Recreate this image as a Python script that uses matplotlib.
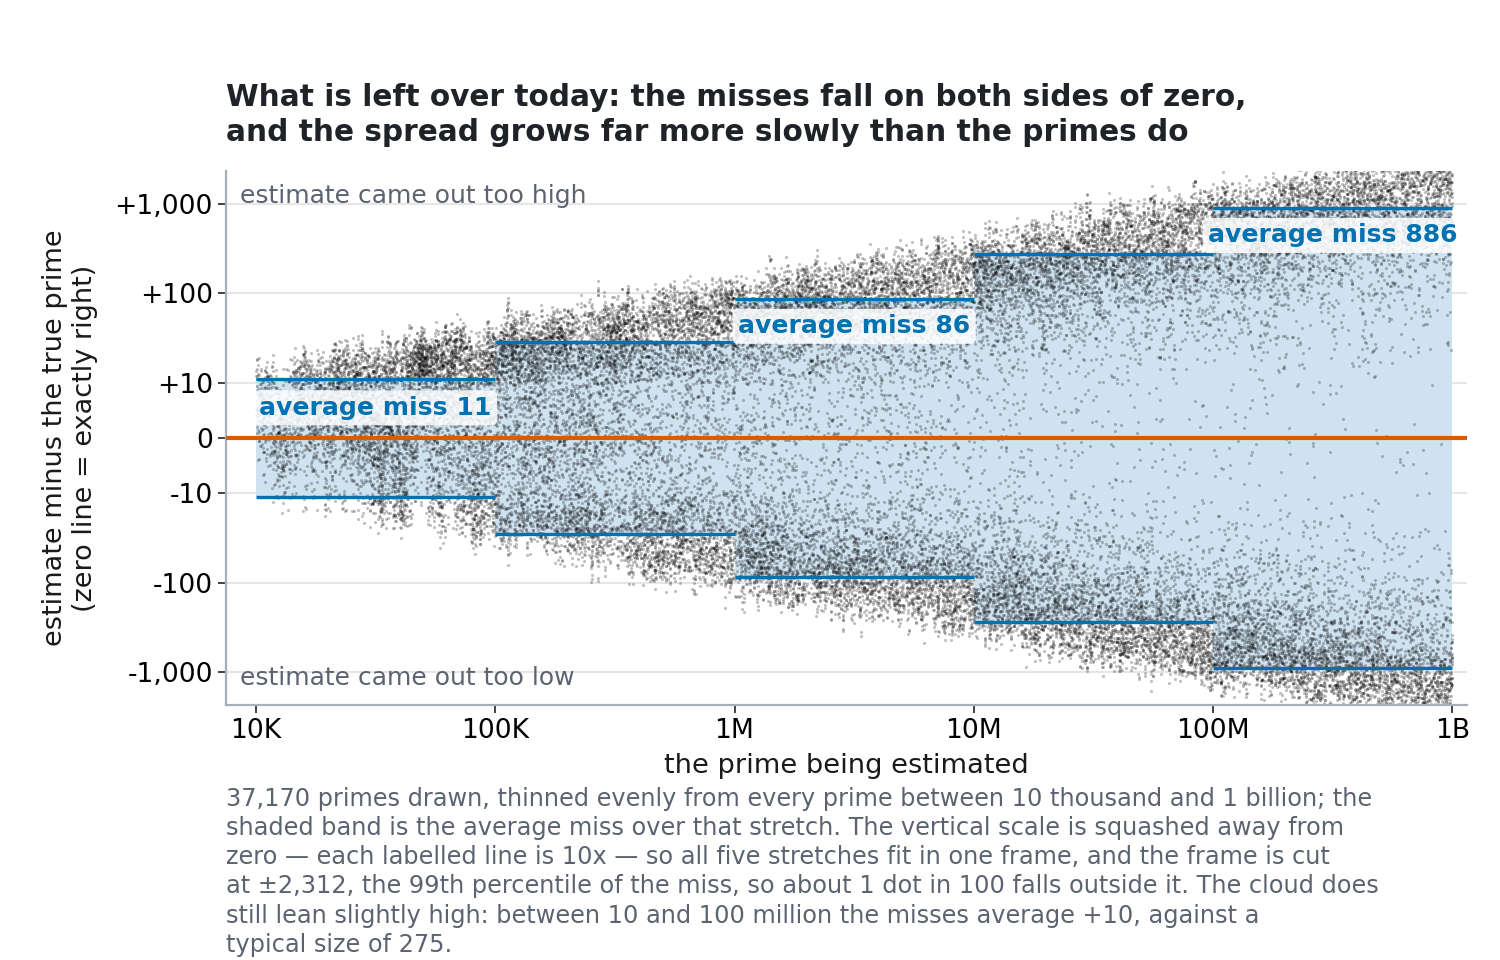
import numpy as np
import matplotlib
matplotlib.use("Agg")
import matplotlib.pyplot as plt
from matplotlib.ticker import NullLocator

# ---------------- values ----------------
decade_edges = [1e4, 1e5, 1e6, 1e7, 1e8, 1e9]
band_avg = [11, 29, 86, 275, 886]
band_labelled = [True, False, True, False, True]
y_ticks = [-1000, -100, -10, 0, 10, 100, 1000]
y_tick_labels = ["-1,000", "-100", "-10", "0", "+10", "+100", "+1,000"]
x_ticks = [1e4, 1e5, 1e6, 1e7, 1e8, 1e9]
x_tick_labels = ["10K", "100K", "1M", "10M", "100M", "1B"]
y_cut = 2312
n_drawn = 37170
n_first = 1230        # index of the first prime above 10 thousand
n_last = 50847534     # index of the last prime below 1 billion
n_zeros = 275         # zeta zeros used by the estimate
LIMIT = 10 ** 9

# ---------------- which primes are drawn (thinned evenly in log) ----------------
def pick(m):
    return np.unique(np.rint(np.geomspace(n_first, n_last, m)).astype(np.int64))

lo_m, hi_m = n_drawn, 2 * n_drawn
while hi_m - lo_m > 1:
    mid = (lo_m + hi_m) // 2
    if len(pick(mid)) <= n_drawn:
        lo_m = mid
    else:
        hi_m = mid
targets = pick(lo_m)

# ---------------- segmented sieve up to 1 billion (true primes) ----------------
def base_primes(n):
    s = np.ones(n + 1, dtype=bool)
    s[:2] = False
    s[4::2] = False
    for i in range(3, int(n ** 0.5) + 1, 2):
        if s[i]:
            s[i * i::2 * i] = False
    return np.flatnonzero(s)

bp = base_primes(31623)
odd_bp = [int(p) for p in bp[1:]]
sq_bp = [p * p for p in odd_bp]

SEG = 1 << 22
count = 1
lo = 0
ti = 0
sel_p, sel_n = [], []
while lo <= LIMIT:
    hi = min(lo + 2 * SEG, LIMIT + 1)
    size = (hi - lo) // 2
    seg = np.ones(size, dtype=bool)
    if lo == 0:
        seg[0] = False
    for p, pp in zip(odd_bp, sq_bp):
        if pp >= hi:
            break
        if pp >= lo:
            s0 = pp
        else:
            r = lo % p
            s0 = lo + (p - r) if r else lo
            if not (s0 & 1):
                s0 += p
        seg[(s0 - lo - 1) >> 1::p] = False
    idx = np.flatnonzero(seg)
    c = idx.size
    j = int(np.searchsorted(targets, count + c, side="right"))
    if j > ti:
        t = targets[ti:j]
        sel_p.append(lo + 2 * idx[t - count - 1] + 1)
        sel_n.append(t)
        ti = j
    count += c
    lo += 2 * SEG
primes = np.concatenate(sel_p).astype(np.float64)
n_idx = np.concatenate(sel_n).astype(np.float64)

# ---------------- zeros of zeta on the critical line ----------------
BERN = [1 / 6, -1 / 30, 1 / 42, -1 / 30, 5 / 66, -691 / 2730, 7 / 6,
        -3617 / 510, 43867 / 798, -174611 / 330]

def zeta_crit(t, N=300):
    s = 0.5 + 1j * t
    acc = np.zeros_like(s)
    for n in range(1, N):
        acc += np.exp(-s * np.log(n))
    NN = float(N)
    NmS = np.exp(-s * np.log(NN))
    acc += NN * NmS / (s - 1) + 0.5 * NmS
    prod = s.copy()
    fact = 2.0
    powN = NmS / NN
    for k in range(1, 11):
        acc += BERN[k - 1] / fact * prod * powN
        prod = prod * (s + 2 * k - 1) * (s + 2 * k)
        fact *= (2 * k + 1) * (2 * k + 2)
        powN = powN / (NN * NN)
    return acc

def theta(t):
    return (t / 2 * np.log(t / (2 * np.pi)) - t / 2 - np.pi / 8
            + 1 / (48 * t) + 7 / (5760 * t ** 3))

def Zfun(t):
    return (np.exp(1j * theta(t)) * zeta_crit(t)).real

grid = np.arange(10.0, 560.0, 0.01)
zg = Zfun(grid)
ch = np.flatnonzero(np.sign(zg[:-1]) != np.sign(zg[1:]))
a, b, fa = grid[ch], grid[ch + 1], zg[ch]
for _ in range(42):
    m = 0.5 * (a + b)
    fm = Zfun(m)
    left = np.sign(fm) == np.sign(fa)
    a = np.where(left, m, a)
    fa = np.where(left, fm, fa)
    b = np.where(left, b, m)
gam = 0.5 * (a + b)

# ---------------- Riemann R plus zero corrections; miss of the estimate ----------------
def zeta_real(s, N=60):
    n = np.arange(1, N, dtype=float)
    return (np.sum(n ** (-s)) + N ** (1 - s) / (s - 1) + 0.5 * N ** (-s)
            + s * N ** (-s - 1) / 12 - s * (s + 1) * (s + 2) * N ** (-s - 3) / 720)

zk = [0.0] + [zeta_real(k + 1.0) for k in range(1, 170)]

def riemann_R(x):
    L = np.log(x)
    total = np.ones_like(x)
    term = np.ones_like(x)
    for k in range(1, 170):
        term = term * L / k
        total += term / (k * zk[k])
    return total

lx = np.log(primes)
count_est = riemann_R(primes) - 1 / lx + np.arctan(np.pi / lx) / np.pi
for g in gam[:n_zeros]:
    z = (0.5 + 1j * g) * lx
    zi = 1 / z
    count_est -= 2 * (np.exp(z) * zi * (1 + zi + 2 * zi * zi + 6 * zi ** 3)).real
miss = (n_idx - count_est) * lx

# ---------------- drawing ----------------
fig = plt.figure(figsize=(15, 9.6), dpi=100)
ax = fig.add_axes([226 / 1500, 1 - 705 / 960, (1467 - 226) / 1500, (705 - 171) / 960])
ax.set_xscale("log")
ax.set_yscale("symlog", linthresh=10, linscale=0.55)
ax.set_xlim(7500, 1.15e9)
ax.set_ylim(-y_cut, y_cut)

ax.grid(axis="y", color="#e6e6e6", lw=1.5, zorder=0)
ax.set_axisbelow(True)

BLUE = "#0072b2"
for i in range(len(band_avg)):
    x0, x1 = decade_edges[i], decade_edges[i + 1]
    v = band_avg[i]
    ax.fill_between([x0, x1], [-v, -v], [v, v], color="#cfe2f0", lw=0, zorder=1)
    ax.hlines([v, -v], x0, x1, color=BLUE, lw=2.4, zorder=3)

ax.scatter(primes, miss, s=5, c="black", alpha=0.25, linewidths=0, zorder=2)
ax.axhline(0, color="#d55e00", lw=3, zorder=4)

for i in range(len(band_avg)):
    if band_labelled[i]:
        x0, x1 = decade_edges[i], decade_edges[i + 1]
        v = band_avg[i]
        ax.text(np.sqrt(x0 * x1), v / 2, f"average miss {v}", ha="center", va="center",
                color=BLUE, fontsize=18.1, fontweight="bold", zorder=6,
                bbox=dict(boxstyle="round,pad=0.22", fc="white", ec="none", alpha=0.85))

ax.text(0.0113, 0.953, "estimate came out too high", transform=ax.transAxes,
        color="#5b6370", fontsize=18, va="center", ha="left", zorder=6)
ax.text(0.0113, 0.0506, "estimate came out too low", transform=ax.transAxes,
        color="#5b6370", fontsize=18, va="center", ha="left", zorder=6)

ax.set_yticks(y_ticks)
ax.set_yticklabels(y_tick_labels)
ax.set_xticks(x_ticks)
ax.set_xticklabels(x_tick_labels)
ax.xaxis.set_minor_locator(NullLocator())
ax.yaxis.set_minor_locator(NullLocator())
ax.tick_params(labelsize=19.2, length=6, width=1.3, color="#333333")
for side in ("top", "right"):
    ax.spines[side].set_visible(False)
for side in ("left", "bottom"):
    ax.spines[side].set_color("#a9afb9")
    ax.spines[side].set_linewidth(1.6)

fig.text(226 / 1500, 1 - 115 / 960,
         "What is left over today: the misses fall on both sides of zero,\n"
         "and the spread grows far more slowly than the primes do",
         fontsize=21.3, fontweight="bold", color="#1f2328", ha="left", va="center",
         linespacing=1.3)
fig.text(846 / 1500, 1 - 766 / 960, "the prime being estimated",
         fontsize=19.6, ha="center", va="center", color="#1a1a1a")
fig.text(70 / 1500, 1 - 438 / 960,
         "estimate minus the true prime\n(zero line = exactly right)",
         fontsize=19.5, rotation=90, ha="center", va="center", color="#1a1a1a",
         multialignment="center")
caption = ("37,170 primes drawn, thinned evenly from every prime between 10 thousand and 1 billion; the\n"
           "shaded band is the average miss over that stretch. The vertical scale is squashed away from\n"
           "zero \u2014 each labelled line is 10x \u2014 so all five stretches fit in one frame, and the frame is cut\n"
           "at \u00b12,312, the 99th percentile of the miss, so about 1 dot in 100 falls outside it. The cloud does\n"
           "still lean slightly high: between 10 and 100 million the misses average +10, against a\n"
           "typical size of 275.")
fig.text(226 / 1500, 1 - 787 / 960, caption, fontsize=17.3, color="#5b6370",
         ha="left", va="top", linespacing=1.27)

fig.savefig("out.png", dpi=100)
